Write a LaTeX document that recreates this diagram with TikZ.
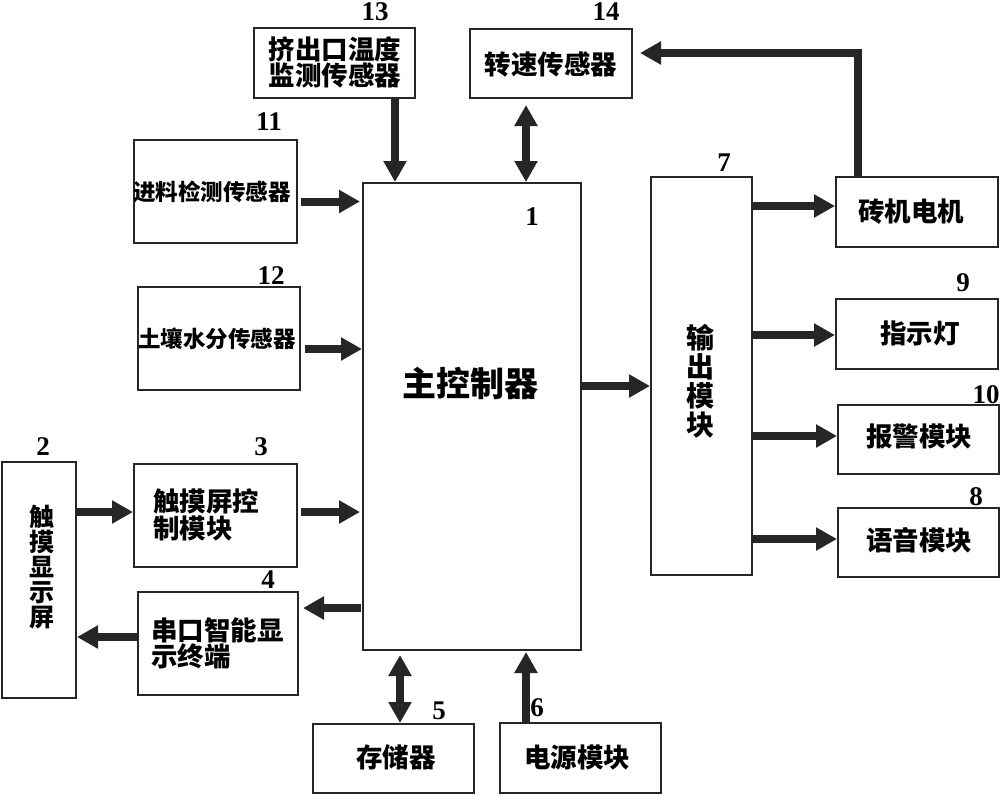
\documentclass[tikz,border=0pt]{standalone}
\usepackage{fontspec}
\setmainfont{Liberation Serif}
\newfontfamily\cjk{Noto Sans CJK SC}
\usetikzlibrary{arrows.meta,calc}
\begin{document}
\begin{tikzpicture}[x=1pt,y=-1pt,
  box/.style={draw=black!85, line width=1.4pt, inner sep=0pt, outer sep=0pt},
  txt/.style={inner sep=0pt, align=center, font=\cjk\bfseries\fontsize{26.5}{25}\selectfont},
  stxt/.style={inner sep=0pt, align=center, font=\cjk\bfseries\fontsize{22.5}{25}\selectfont},
  num/.style={inner sep=0pt, font=\bfseries\fontsize{27}{27}\selectfont},
  arr/.style={line width=8pt, draw=black!85, -{Triangle[length=21pt,width=22pt]}},
  darr/.style={line width=8pt, draw=black!85, {Triangle[length=21pt,width=22pt]}-{Triangle[length=21pt,width=22pt]}}
]
\useasboundingbox (0,0) rectangle (1000,795);

% boxes
\node[box,minimum width=161pt,minimum height=70pt] (n13) at (334.5,63) {};
\node[box,minimum width=162pt,minimum height=69pt] (n14) at (551,63.5) {};
\node[box,minimum width=163pt,minimum height=103pt] (n11) at (215.5,191.5) {};
\node[box,minimum width=162pt,minimum height=103pt] (n12) at (219,338.5) {};
\node[box,minimum width=218pt,minimum height=467pt] (main) at (472,416.5) {};
\node[box,minimum width=101pt,minimum height=398pt] (n7) at (701.5,376) {};
\node[box,minimum width=162pt,minimum height=70pt] (motor) at (917,212) {};
\node[box,minimum width=162pt,minimum height=70pt] (n9) at (917,334) {};
\node[box,minimum width=161pt,minimum height=69pt] (n10) at (918.5,439.5) {};
\node[box,minimum width=161pt,minimum height=69pt] (n8) at (918.5,542.5) {};
\node[box,minimum width=74pt,minimum height=236pt] (n2) at (39,580) {};
\node[box,minimum width=163pt,minimum height=103pt] (n3) at (215.5,515.5) {};
\node[box,minimum width=160pt,minimum height=103pt] (n4) at (218,643.5) {};
\node[box,minimum width=161pt,minimum height=69pt] (n5) at (393.5,758.5) {};
\node[box,minimum width=161pt,minimum height=70pt] (n6) at (580.5,758) {};

% texts
\node[txt] (t13) at (335,62.5) {挤出口温度\\监测传感器};
\node[txt] (t14) at (551,64) {转速传感器};
\node[stxt] (t11) at (212,192) {进料检测传感器};
\node[stxt] (t12) at (217,339) {土壤水分传感器};
\node[txt,font=\cjk\bfseries\fontsize{34}{34}\selectfont] (t1) at (470,383) {主控制器};
\node[txt,font=\cjk\bfseries\fontsize{28}{29}\selectfont] (t7) at (700,381) {输\\出\\模\\块};
\node[txt] (tm) at (911,212) {砖机电机};
\node[txt] (t9) at (920,333) {指示灯};
\node[txt] (t10) at (919,436) {报警模块};
\node[txt] (t8) at (919,540) {语音模块};
\node[txt,font=\cjk\bfseries\fontsize{25}{25}\selectfont] (t2) at (42,567) {触\\摸\\显\\示\\屏};
\node[txt,align=left,anchor=west] (t3) at (153,515) {触摸屏控\\制模块};
\node[txt,align=left,anchor=west] (t4) at (151,643.5) {串口智能显\\示终端};
\node[txt] (t5) at (396,757) {存储器};
\node[txt] (t6) at (577,757) {电源模块};

% numbers
\node[num] (l13) at (375,12) {13};
\node[num] (l14) at (606,12) {14};
\node[num] (l11) at (269,122) {11};
\node[num] (l12) at (271,276) {12};
\node[num] (l1) at (532,217) {1};
\node[num] (l7) at (724,163) {7};
\node[num] (l9) at (963,283) {9};
\node[num] (l10) at (986,395) {10};
\node[num] (l8) at (976,497) {8};
\node[num] (l2) at (43,447) {2};
\node[num] (l3) at (261,447) {3};
\node[num] (l4) at (268,580) {4};
\node[num] (l5) at (439,711) {5};
\node[num] (l6) at (537,708) {6};

% connectors
\draw[arr,shorten >=1pt] (n13.south -| 395,0) -- (main.north -| 395,0);
\draw[darr,shorten <=7pt,shorten >=1pt] (n14.south -| 526,0) -- (main.north -| 526,0);
\draw[arr,shorten >=8pt] (motor.north -| 858,0) |- (n14.east |- 0,53);
\draw[arr,shorten <=4pt,shorten >=3pt] (n11.east |- 0,201.5) -- (main.west |- 0,201.5);
\draw[arr,shorten <=5pt,shorten >=1pt] (n12.east |- 0,349) -- (main.west |- 0,349);
\draw[arr,shorten <=4pt,shorten >=3pt] (n3.east |- 0,512) -- (main.west |- 0,512);
\draw[arr,shorten <=2pt,shorten >=5pt] (main.west |- 0,608) -- (n4.east |- 0,608);
\draw[arr,shorten >=1pt] (n4.west |- 0,637) -- (n2.east |- 0,637);
\draw[arr,shorten >=1pt] (n2.east |- 0,512) -- (n3.west |- 0,512);
\draw[darr,shorten <=5pt,shorten >=1pt] (main.south -| 400,0) -- (n5.north -| 400,0);
\draw[arr,shorten >=2pt] (n6.north -| 526,0) -- (main.south -| 526,0);
\draw[arr,shorten >=1pt] (main.east |- 0,386) -- (n7.west |- 0,386);
\draw[arr,shorten >=1pt] (n7.east |- 0,206) -- (motor.west |- 0,206);
\draw[arr,shorten >=1pt] (n7.east |- 0,335) -- (n9.west |- 0,335);
\draw[arr,shorten >=1pt] (n7.east |- 0,436) -- (n10.west |- 0,436);
\draw[arr,shorten >=1pt] (n7.east |- 0,539) -- (n8.west |- 0,539);
\end{tikzpicture}
\end{document}
